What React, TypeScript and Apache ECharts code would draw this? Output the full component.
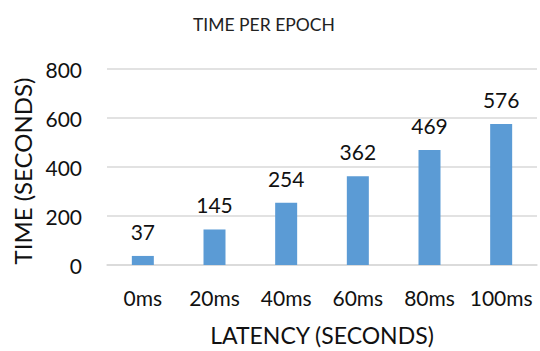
import React, { useEffect, useRef } from "react";
import * as echarts from "echarts";

const categories = ["0ms", "20ms", "40ms", "60ms", "80ms", "100ms"];
const values = [37, 145, 254, 362, 469, 576];
const yTicks = { min: 0, max: 800, interval: 200 };
const FONT = "Lato";

export default function App() {
  const ref = useRef<HTMLDivElement>(null);
  useEffect(() => {
    const chart = echarts.init(ref.current!, null, { renderer: "svg" });
    chart.setOption({
      animation: false,
      title: {
        text: "TIME PER EPOCH",
        left: 188,
        top: 10,
        textStyle: { fontFamily: FONT, fontSize: 17.5, fontWeight: "normal", color: "#222" },
      },
      grid: { left: 107, right: 3, top: 69, bottom: 84 },
      xAxis: {
        type: "category",
        data: categories,
        axisTick: { show: false },
        axisLine: { lineStyle: { color: "#d9d9d9", width: 1.5 } },
        axisLabel: { interval: 0, margin: 22, fontFamily: FONT, fontSize: 21, color: "#111" },
        name: "LATENCY (SECONDS)",
        nameLocation: "middle",
        nameGap: 58,
        nameTextStyle: { fontFamily: FONT, fontSize: 23, color: "#111" },
      },
      yAxis: {
        type: "value",
        min: yTicks.min,
        max: yTicks.max,
        interval: yTicks.interval,
        axisLine: { show: false },
        axisTick: { show: false },
        splitLine: { lineStyle: { color: "#d9d9d9", width: 1.5 } },
        axisLabel: { margin: 25, fontFamily: FONT, fontSize: 21, color: "#111" },
        name: "TIME (SECONDS)",
        nameLocation: "middle",
        nameGap: 72,
        nameRotate: 90,
        nameTextStyle: { fontFamily: FONT, fontSize: 24, color: "#111", padding: [0, 8, 0, 0] },
      },
      series: [
        {
          type: "bar",
          data: values,
          barWidth: 22,
          itemStyle: { color: "#5b9bd5" },
          label: {
            show: true,
            position: "top",
            distance: 14,
            fontFamily: FONT,
            fontSize: 21,
            color: "#111",
          },
        },
      ],
    });
    return () => chart.dispose();
  }, []);
  return <div ref={ref} style={{ width: 540, height: 351, position: "absolute", left: 0, top: 0 }} />;
}
